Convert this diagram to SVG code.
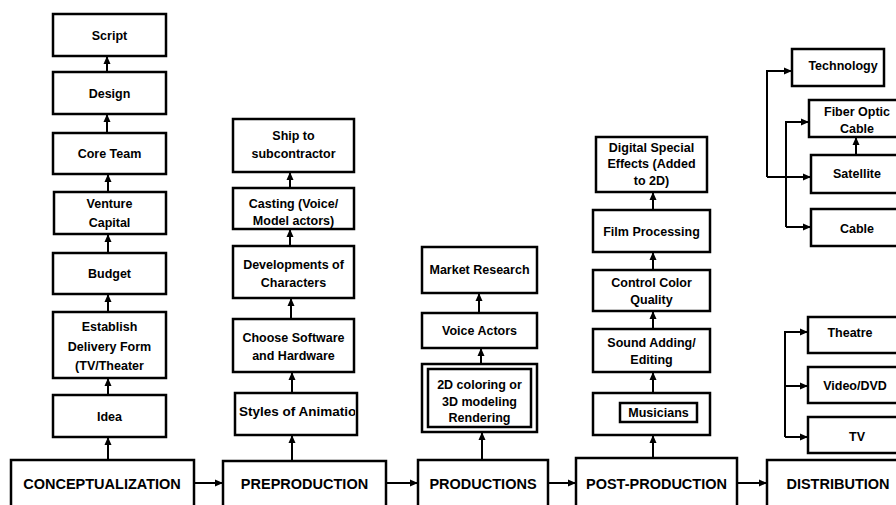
<svg xmlns="http://www.w3.org/2000/svg" width="896" height="505" viewBox="0 0 896 505">
<defs>
<marker id="ah" viewBox="0 0 8 8" refX="7" refY="4" markerWidth="4" markerHeight="4" orient="auto" markerUnits="strokeWidth"><path d="M0,0.5 L8,4 L0,7.5 Z" fill="#000"/></marker>
<clipPath id="clipStyles"><rect x="235" y="393" width="120" height="42"/></clipPath>
</defs>
<style>
.b{fill:#fff;stroke:#000;stroke-width:2.5}
.t{font-family:"Liberation Sans",Arial,sans-serif;font-weight:bold;font-size:12.5px;text-anchor:middle;fill:#000}
.s{font-family:"Liberation Sans",Arial,sans-serif;font-weight:bold;font-size:14.5px;text-anchor:middle;fill:#000}
.c{fill:none;stroke:#000;stroke-width:2;marker-end:url(#ah)}
</style>
<rect width="896" height="505" fill="#fff"/>
<g id="connectors">
<path class="c" d="M108,460 V438"/>
<path class="c" d="M108,395 V379"/>
<path class="c" d="M108,312 V295"/>
<path class="c" d="M108,253 V235"/>
<path class="c" d="M108,192 V175"/>
<path class="c" d="M107,133 V115"/>
<path class="c" d="M107,72 V57"/>
<path class="c" d="M194,483 H222"/>
<path class="c" d="M292,461 V436"/>
<path class="c" d="M292,393 V373"/>
<path class="c" d="M291,319 V299"/>
<path class="c" d="M290,246 V230"/>
<path class="c" d="M290,188 V173"/>
<path class="c" d="M386,483 H417"/>
<path class="c" d="M482,460 V433"/>
<path class="c" d="M481,364 V349"/>
<path class="c" d="M479,313 V294"/>
<path class="c" d="M548,483 H575"/>
<path class="c" d="M653,458 V436"/>
<path class="c" d="M653,393 V373"/>
<path class="c" d="M653,329 V312"/>
<path class="c" d="M653,270 V253"/>
<path class="c" d="M653,210 V193"/>
<path class="c" d="M737,483 H766"/>
<path class="c" d="M767,177 V71 H791"/>
<path class="c" d="M767,177 H810"/>
<path class="c" d="M786,227 V122 H808"/>
<path class="c" d="M786,227 H810"/>
<path class="c" d="M856,155 V138"/>
<path class="c" d="M785,437 V332 H807"/>
<path class="c" d="M785,386 H807"/>
<path class="c" d="M785,437 H807"/>
</g>
<g id="conceptualization"><rect class="b" x="11" y="460" width="183" height="60"/><text class="s" x="102" y="489">CONCEPTUALIZATION</text></g>
<g id="idea"><rect class="b" x="53" y="395" width="113" height="42"/><text class="t" x="109.5" y="421">Idea</text></g>
<g id="establish"><rect class="b" x="53" y="312" width="113" height="66"/><text class="t" x="109.5" y="331">Establish</text><text class="t" x="109.5" y="351">Delivery Form</text><text class="t" x="109.5" y="370">(TV/Theater</text></g>
<g id="budget"><rect class="b" x="53" y="253" width="113" height="41"/><text class="t" x="109.5" y="277.5">Budget</text></g>
<g id="venture"><rect class="b" x="54" y="192" width="112" height="42"/><text class="t" x="109.5" y="207.5">Venture</text><text class="t" x="109.5" y="226.5">Capital</text></g>
<g id="coreteam"><rect class="b" x="53" y="133" width="113" height="41"/><text class="t" x="109.5" y="157.5">Core Team</text></g>
<g id="design"><rect class="b" x="53" y="72" width="113" height="42"/><text class="t" x="109.5" y="97.5">Design</text></g>
<g id="script"><rect class="b" x="53" y="14" width="113" height="42"/><text class="t" x="109.5" y="39.5">Script</text></g>
<g id="preproduction"><rect class="b" x="223" y="461" width="163" height="60"/><text class="s" x="304.5" y="489">PREPRODUCTION</text></g>
<g id="styles"><rect class="b" x="235" y="393" width="122" height="42"/><text class="t" x="239" y="415.5" style="text-anchor:start;font-size:13.5px" clip-path="url(#clipStyles)">Styles of Animation</text></g>
<g id="software"><rect class="b" x="233" y="319" width="121" height="53"/><text class="t" x="293.5" y="341.5">Choose Software</text><text class="t" x="293.5" y="359.5">and Hardware</text></g>
<g id="characters"><rect class="b" x="233" y="246" width="121" height="52"/><text class="t" x="293.5" y="268.5">Developments of</text><text class="t" x="293.5" y="286.5">Characters</text></g>
<g id="casting"><rect class="b" x="233" y="188" width="121" height="41"/><text class="t" x="293.5" y="207.5">Casting (Voice/</text><text class="t" x="293.5" y="225">Model actors)</text></g>
<g id="ship"><rect class="b" x="233" y="119" width="121" height="53"/><text class="t" x="293.5" y="140">Ship to</text><text class="t" x="293.5" y="157.5">subcontractor</text></g>
<g id="productions"><rect class="b" x="418" y="460" width="130" height="60"/><text class="s" x="483" y="489">PRODUCTIONS</text></g>
<g id="rendering"><rect class="b" x="422" y="364" width="115" height="68"/><rect class="b" x="428" y="369" width="103" height="58"/><text class="t" x="479.5" y="389">2D coloring or</text><text class="t" x="479.5" y="406">3D modeling</text><text class="t" x="479.5" y="422">Rendering</text></g>
<g id="voiceactors"><rect class="b" x="422" y="313" width="115" height="35"/><text class="t" x="479.5" y="334.5">Voice Actors</text></g>
<g id="market"><rect class="b" x="422" y="247" width="115" height="46"/><text class="t" x="479.5" y="273.5">Market Research</text></g>
<g id="postproduction"><rect class="b" x="576" y="458" width="161" height="60"/><text class="s" x="656.5" y="489">POST-PRODUCTION</text></g>
<g id="musicians"><rect class="b" x="593" y="393" width="117" height="42"/><rect class="b" x="620" y="403" width="77" height="19"/><text class="t" x="658.5" y="417">Musicians</text></g>
<g id="sound"><rect class="b" x="593" y="329" width="117" height="43"/><text class="t" x="651.5" y="347">Sound Adding/</text><text class="t" x="651.5" y="363.5">Editing</text></g>
<g id="color"><rect class="b" x="593" y="270" width="117" height="41"/><text class="t" x="651.5" y="287">Control Color</text><text class="t" x="651.5" y="304">Quality</text></g>
<g id="film"><rect class="b" x="593" y="210" width="117" height="42"/><text class="t" x="651.5" y="236">Film Processing</text></g>
<g id="digital"><rect class="b" x="596" y="137" width="111" height="55"/><text class="t" x="651.5" y="151.5">Digital Special</text><text class="t" x="651.5" y="167.5">Effects (Added</text><text class="t" x="651.5" y="184.5">to 2D)</text></g>
<g id="distribution"><rect class="b" x="767" y="460" width="140" height="60"/><text class="s" x="838" y="489">DISTRIBUTION</text></g>
<g id="tv"><rect class="b" x="808" y="417" width="100" height="36"/><text class="t" x="857" y="441">TV</text></g>
<g id="video"><rect class="b" x="808" y="367" width="100" height="36"/><text class="t" x="855" y="390">Video/DVD</text></g>
<g id="theatre"><rect class="b" x="808" y="317" width="100" height="36"/><text class="t" x="850" y="336.5">Theatre</text></g>
<g id="technology"><rect class="b" x="792" y="49" width="92" height="37"/><text class="t" x="843" y="69.5">Technology</text></g>
<g id="fiber"><rect class="b" x="809" y="100" width="100" height="37"/><text class="t" x="857" y="115.5">Fiber Optic</text><text class="t" x="857" y="132.5">Cable</text></g>
<g id="satellite"><rect class="b" x="811" y="155" width="100" height="38"/><text class="t" x="857" y="177.5">Satellite</text></g>
<g id="cable"><rect class="b" x="811" y="209" width="100" height="37"/><text class="t" x="857" y="232.5">Cable</text></g>
</svg>
